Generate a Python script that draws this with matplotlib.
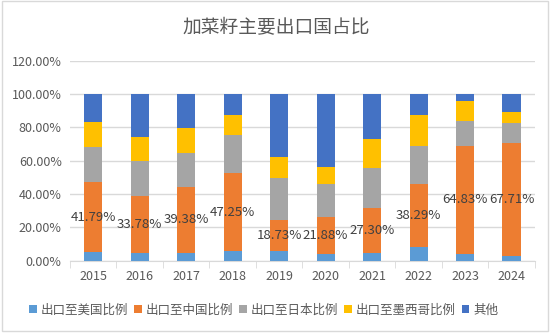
import matplotlib
matplotlib.use("Agg")
import matplotlib.pyplot as plt
from matplotlib.patches import Rectangle
from matplotlib.ticker import FuncFormatter, MultipleLocator

plt.rcParams['font.family'] = ['Noto Sans CJK SC', 'DejaVu Sans']

years = ['2015', '2016', '2017', '2018', '2019', '2020', '2021', '2022', '2023', '2024']
us = [5.3, 4.8, 4.8, 5.6, 5.6, 4.2, 4.6, 8.0, 4.2, 2.8]
china = [41.79, 33.78, 39.38, 47.25, 18.73, 21.88, 27.30, 38.29, 64.83, 67.71]
japan = [21.2, 21.3, 20.5, 22.3, 25.6, 19.8, 23.8, 22.6, 14.6, 12.3]
mexico = [14.9, 14.4, 14.9, 12.0, 12.4, 10.6, 17.2, 18.7, 12.0, 6.6]
other = [16.8, 25.7, 20.4, 12.8, 37.7, 43.5, 27.1, 12.4, 4.4, 10.6]

series = [
    ('出口至美国比例', us, '#5B9BD5'),
    ('出口至中国比例', china, '#ED7D31'),
    ('出口至日本比例', japan, '#A5A5A5'),
    ('出口至墨西哥比例', mexico, '#FFC000'),
    ('其他', other, '#4472C4'),
]

fig = plt.figure(figsize=(5.52, 3.33), dpi=100)
fig.patches.append(Rectangle((0.003, 0.006), 0.989, 0.99, transform=fig.transFigure,
                             fill=False, edgecolor='#D9D9D9', linewidth=1))
ax = fig.add_axes([0.1268, 0.217, 0.842, 0.6006])

x = list(range(len(years)))
bottom = [0.0] * len(years)
width = 0.39
for name, vals, color in series:
    v = [val / 100 for val in vals]
    bars = ax.bar(x, v, width, bottom=bottom, color=color, label=name, zorder=3)
    if name == '出口至中国比例':
        for xi, b, val in zip(x, bottom, vals):
            ax.text(xi, b + val / 200, f'{val:.2f}%', ha='center', va='center',
                    fontsize=9.5, color='#404040', zorder=4)
    bottom = [b + vv for b, vv in zip(bottom, v)]

ax.set_ylim(0, 1.2)
ax.set_xlim(-0.5, len(years) - 0.5)
ax.yaxis.set_major_locator(MultipleLocator(0.2))
ax.yaxis.set_major_formatter(FuncFormatter(lambda v, p: f'{v*100:.2f}%'))
ax.grid(axis='y', color='#D9D9D9', linewidth=1, zorder=0)
ax.set_xticks(x)
ax.set_xticklabels(years)
ax.set_xticks([i - 0.5 for i in range(len(years) + 1)], minor=True)
ax.tick_params(axis='x', which='major', length=0, pad=7, labelsize=9, labelcolor='#595959')
ax.tick_params(axis='x', which='minor', length=5, color='#D9D9D9')
ax.tick_params(axis='y', length=0, labelsize=9, labelcolor='#595959', pad=6)
for s in ['top', 'right', 'left']:
    ax.spines[s].set_visible(False)
ax.spines['bottom'].set_color('#D9D9D9')

fig.text(0.5, 0.918, '加菜籽主要出口国占比', ha='center', va='center', fontsize=13.5, color='#595959')

leg = fig.legend(loc='center', bbox_to_anchor=(0.478, 0.068), ncol=5, frameon=False,
                 fontsize=9, handlelength=0.6, handleheight=0.6, handletextpad=0.3,
                 columnspacing=0.5, labelcolor='#595959')

fig.savefig('out.png', dpi=100)
